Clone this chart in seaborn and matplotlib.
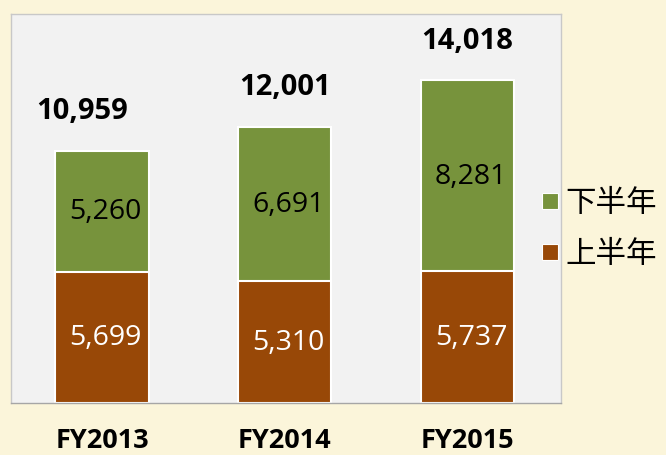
import matplotlib
matplotlib.use("Agg")
import matplotlib.pyplot as plt
import seaborn as sns
import pandas as pd
from matplotlib.lines import Line2D

years = ["FY2013", "FY2014", "FY2015"]
first_half = [5699, 5310, 5737]    # 上半年
second_half = [5260, 6691, 8281]   # 下半年
totals = [a + b for a, b in zip(first_half, second_half)]
legend_labels = ["下半年", "上半年"]

GREEN = "#77933C"
BROWN = "#984807"
BG = "#FBF5DA"
PLOT_BG = "#F2F2F2"

sns.set_theme(style="white")
plt.rcParams["font.family"] = ["Open Sans", "DejaVu Sans"]
plt.rcParams["text.color"] = "black"

df = pd.DataFrame({"year": years, "first": first_half, "second": second_half, "total": totals})

fig = plt.figure(figsize=(6.66, 4.56), dpi=100, facecolor=BG)
ax = fig.add_axes([0.016, 0.114, 0.826, 0.853])
ax.set_facecolor(PLOT_BG)

sns.barplot(data=df, x="year", y="total", color=GREEN, width=0.51, saturation=1,
            edgecolor="white", linewidth=1.5, ax=ax)
sns.barplot(data=df, x="year", y="first", color=BROWN, width=0.51, saturation=1,
            edgecolor="white", linewidth=1.5, ax=ax)

ax.set_xlim(-0.5, 2.51)
ax.set_ylim(0, 16900)
ax.set_xlabel("")
ax.set_ylabel("")
ax.set_yticks([])
ax.tick_params(axis="x", length=0, pad=17)
for lab in ax.get_xticklabels():
    lab.set_fontweight("bold")
    lab.set_fontsize(19.5)
    lab.set_color("black")

for s in ax.spines.values():
    s.set_color("#C8C8C8")
    s.set_linewidth(1.0)
ax.spines["bottom"].set_color("#A6A6A6")

for i in range(len(years)):
    ax.text(i + 0.02, first_half[i] / 2, f"{first_half[i]:,}", ha="center", va="center",
            color="white", fontsize=20.5)
    ax.text(i + 0.02, first_half[i] + second_half[i] / 2, f"{second_half[i]:,}", ha="center",
            va="center", color="black", fontsize=20.5)
    dx = -20 if i == 0 else 0
    ax.annotate(f"{totals[i]:,}", xy=(i, totals[i]), xytext=(dx * 0.72, 29),
                textcoords="offset points", ha="center", va="center",
                fontsize=21, fontweight="bold", color="black")

handles = [Line2D([], [], marker="s", linestyle="none", markersize=11.5,
                  markerfacecolor=c, markeredgecolor="white", markeredgewidth=0.8)
           for c in (GREEN, BROWN)]
leg = fig.legend(handles, legend_labels, loc="center left", bbox_to_anchor=(0.808, 0.497),
                 frameon=False, handlelength=0.75, handletextpad=0.15, labelspacing=0.65,
                 borderpad=0, borderaxespad=0,
                 prop={"family": ["Noto Sans CJK JP", "DejaVu Sans"], "size": 22})
for t in leg.get_texts():
    t.set_color("black")

fig.savefig("out.png", dpi=100, facecolor=BG)
